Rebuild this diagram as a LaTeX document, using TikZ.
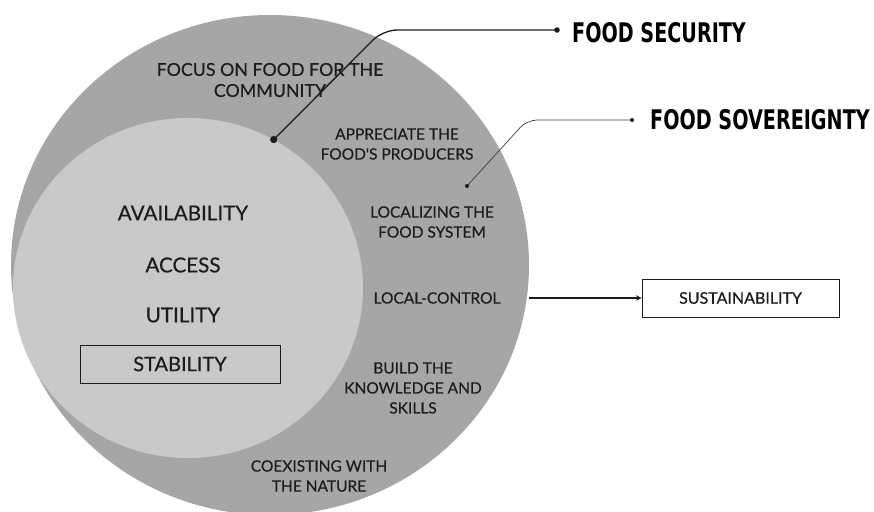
\documentclass[tikz,border=0pt]{standalone}
\usepackage{fontspec}
\setmainfont{Lato}
\newfontfamily\labelfont[FakeBold=0.45]{Lato}
\newfontfamily\headfont[FakeStretch=0.71]{DejaVu Sans}
\usetikzlibrary{shapes.geometric,arrows}
\definecolor{ringgray}{RGB}{166,166,166}
\definecolor{coregray}{RGB}{201,201,201}
\definecolor{ink}{RGB}{28,28,28}

\begin{document}
\begin{tikzpicture}[x=1pt,y=-1pt,
	ring/.style={font=\labelfont\fontsize{15.5}{20}\selectfont, align=center, text=ink},
	core/.style={font=\labelfont\fontsize{20.6}{24}\selectfont, text=ink},
	head/.style={font=\headfont\bfseries\fontsize{27}{30}\selectfont, anchor=west, inner sep=0pt, text=black},
	framed/.style={draw=ink, thick, minimum height=38pt}]
	\useasboundingbox (0,0) rectangle (874,511);
	\node[ellipse, fill=ringgray, minimum width=518pt, minimum height=500pt, inner sep=0pt] (outer) at (270,265) {};% food sovereignty
	\node[ellipse, fill=coregray, minimum width=350pt, minimum height=340pt, inner sep=0pt] (inner) at (188,288) {};% food security
	% ring labels
	\node[ring, font=\labelfont\fontsize{17.8}{21}\selectfont] (focus) at (270,80) {FOCUS ON FOOD FOR THE\\COMMUNITY};
	\node[ring] (appr) at (397,144) {APPRECIATE THE\\FOOD'S PRODUCERS};
	\node[ring] (localz) at (432,222) {LOCALIZING THE\\FOOD SYSTEM};
	\node[ring] (lctrl) at (437,298) {LOCAL-CONTROL};
	\node[ring] (build) at (413,388) {BUILD THE\\KNOWLEDGE AND\\SKILLS};
	\node[ring] (coexist) at (319,476) {COEXISTING WITH\\THE NATURE};
	% core labels
	\node[core] (avail) at (183,213) {AVAILABILITY};
	\node[core] (access) at (183,265) {ACCESS};
	\node[core] (util) at (183,315) {UTILITY};
	\node[core, framed, minimum width=200pt, font=\labelfont\fontsize{20}{24}\selectfont] (stab) at (180,364) {STABILITY};
	\node[ring, framed, minimum width=197pt, font=\labelfont\fontsize{16}{20}\selectfont] (sust) at (740.5,298) {SUSTAINABILITY};
	\draw[->, >=stealth, line width=1.5pt, ink] (outer.east |- sust.west) -- (sust.west);
	% callouts
	\coordinate (secdot) at (inner.60);
	\coordinate (seccorner) at (383,30);
	\coordinate (secend) at (557,30);
	\draw[line width=1.3pt, ink, rounded corners=14pt] (secdot) -- (seccorner) -- (secend);
	\fill[ink] (secdot) circle (3.6pt);
	\fill[ink] (secend) circle (2.8pt);
	\node[head] (security) at (572,33) {FOOD SECURITY};
	\coordinate (sovdot) at (467,186);
	\coordinate (sovcorner) at (527,120);
	\coordinate (sovend) at (632,120);
	\draw[line width=0.7pt, ink!85, rounded corners=10pt] (sovdot) -- (sovcorner) -- (sovend);
	\fill[ink] (sovdot) circle (2pt);
	\fill[ink] (sovend) circle (2pt);
	\node[head] (sovereignty) at (650,120) {FOOD SOVEREIGNTY};
\end{tikzpicture}
\end{document}
